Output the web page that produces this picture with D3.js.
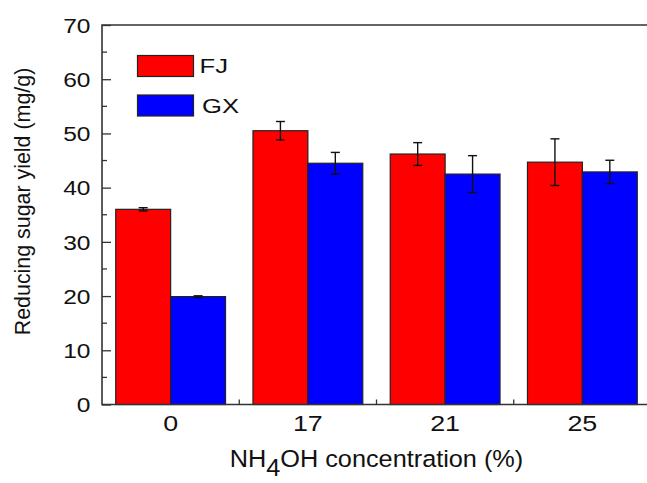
<!DOCTYPE html>
<html><head><meta charset="utf-8">
<script src="https://cdn.jsdelivr.net/npm/d3@7/dist/d3.min.js"></script>
<style>body{margin:0;background:#fff}svg{display:block}text{font-family:Arial,"Liberation Sans",sans-serif;fill:#111}</style>
</head><body><svg id="c" width="647" height="483"></svg>
<script>
const categories = ["0","17","21","25"];
const series = ["FJ","GX"];
const fjValues = [36.0, 50.5, 46.2, 44.7];
const fjErrors = [0.3, 1.7, 2.1, 4.3];
const gxValues = [19.9, 44.5, 42.5, 42.9];
const gxErrors = [0.15, 2.0, 3.4, 2.15];
const colors = ["#ff0000","#0000ff"];
const yTicks = [0,10,20,30,40,50,60,70];

const svg = d3.select("#c");
const L = 102, R = 651, T = 25, B = 404.5;
const x = d3.scaleBand().domain(categories).range([L,R]).paddingInner(0.2).paddingOuter(0.1);
const xs = d3.scaleBand().domain(series).range([0,x.bandwidth()]);
const y = d3.scaleLinear().domain([0,70]).range([B,T]);
const axisCol = "#333";
const FF = "Arial, 'Liberation Sans', sans-serif";

// minor y ticks
const yMinor = d3.range(5,70,10);
svg.append("g").selectAll("line").data(yMinor).join("line")
  .attr("x1",L).attr("x2",L+5).attr("y1",d=>y(d)).attr("y2",d=>y(d))
  .attr("stroke",axisCol).attr("stroke-width",1.3);
// major y ticks + labels
const ySx = 1.17, yPad = 11.5;
const yAxis = d3.axisLeft(y).tickValues(yTicks).tickSize(-9).tickPadding(yPad).tickFormat(d3.format("d"));
const gy = svg.append("g").attr("transform",`translate(${L},0)`).call(yAxis);
gy.select(".domain").remove();
gy.selectAll(".tick line").attr("stroke",axisCol).attr("stroke-width",1.3);
gy.selectAll(".tick text").attr("font-size",21).attr("fill","#111").attr("font-family",FF)
  .attr("dy","0.35em").attr("x",-yPad/ySx).attr("transform",`scale(${ySx},1)`);

// x minor ticks at category boundaries
const bounds = categories.slice(1).map(c => x(c) - x.step()*x.paddingInner()/2);
svg.append("g").selectAll("line").data(bounds).join("line")
  .attr("x1",d=>d).attr("x2",d=>d).attr("y1",B).attr("y2",B-5)
  .attr("stroke",axisCol).attr("stroke-width",1.3);
// x axis labels
const xAxis = d3.axisBottom(x).tickSize(-9).tickPadding(10.5);
const gx = svg.append("g").attr("transform",`translate(0,${B})`).call(xAxis);
gx.select(".domain").remove();
gx.selectAll(".tick line").attr("stroke",axisCol).attr("stroke-width",1.3);
gx.selectAll(".tick text").attr("font-size",22).attr("fill","#111").attr("font-family",FF)
  .attr("transform","scale(1.22,1)");

// bars
const data = categories.map((c,i)=>({c, vals:[
  {s:"FJ", v:fjValues[i], e:fjErrors[i], col:colors[0]},
  {s:"GX", v:gxValues[i], e:gxErrors[i], col:colors[1]}]}));
const groups = svg.append("g").selectAll("g").data(data).join("g")
  .attr("transform",d=>`translate(${x(d.c)},0)`);
groups.selectAll("rect").data(d=>d.vals).join("rect")
  .attr("x",d=>xs(d.s)).attr("width",xs.bandwidth())
  .attr("y",d=>y(d.v)).attr("height",d=>y(0)-y(d.v))
  .attr("fill",d=>d.col).attr("stroke","#222").attr("stroke-width",1.2);
// error bars
const eb = groups.selectAll("g.eb").data(d=>d.vals).join("g").attr("class","eb")
  .attr("transform",d=>`translate(${xs(d.s)+xs.bandwidth()/2},0)`);
eb.append("line").attr("x1",0).attr("x2",0).attr("y1",d=>y(d.v+d.e)).attr("y2",d=>y(d.v-d.e))
  .attr("stroke","#111").attr("stroke-width",1.4);
eb.append("line").attr("x1",-4.5).attr("x2",4.5).attr("y1",d=>y(d.v+d.e)).attr("y2",d=>y(d.v+d.e))
  .attr("stroke","#111").attr("stroke-width",1.4);
eb.append("line").attr("x1",-4.5).attr("x2",4.5).attr("y1",d=>y(d.v-d.e)).attr("y2",d=>y(d.v-d.e))
  .attr("stroke","#111").attr("stroke-width",1.4);

// frame
svg.append("path").attr("d",`M${L},${T}H${R}V${B}H${L}Z`).attr("fill","none")
  .attr("stroke",axisCol).attr("stroke-width",1.6);

// legend
const leg = svg.append("g").selectAll("g").data(series).join("g")
  .attr("transform",(d,i)=>`translate(137.5,${55.5+i*39.5})`);
leg.append("rect").attr("width",56).attr("height",21).attr("fill",(d,i)=>colors[i])
  .attr("stroke","#222").attr("stroke-width",1.2);
leg.append("text").attr("transform",(d,i)=>`translate(${i===0?62:64.5},${i===0?17.8:18.3}) scale(1.22,1)`)
  .attr("font-size",21).text(d=>d);

// axis titles
svg.append("text").attr("transform","translate(30,201.5) rotate(-90)").attr("text-anchor","middle")
  .attr("font-size",21.4).text("Reducing sugar yield (mg/g)");
const xt = svg.append("text").attr("transform","translate(376.5,467) scale(1.085,1)")
  .attr("text-anchor","middle").attr("font-size",23.3);
xt.append("tspan").text("NH");
xt.append("tspan").attr("dy",9).text("4");
xt.append("tspan").attr("dy",-9).text("OH concentration (%)");
</script></body></html>
